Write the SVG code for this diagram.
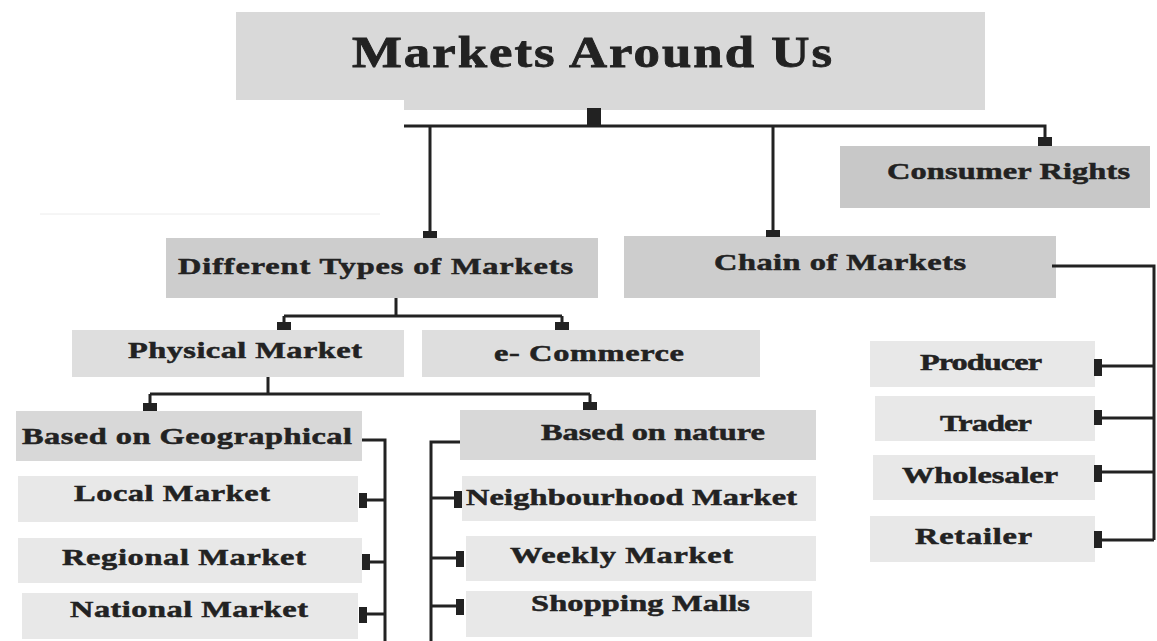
<svg xmlns="http://www.w3.org/2000/svg" width="1157" height="641" viewBox="0 0 1157 641">
  <style>
    .t { font-family: "Liberation Serif", "Times New Roman", serif; font-weight: bold; fill: #222; stroke: #222; stroke-width: 0.5; }
    .h1 { font-size: 44px; stroke-width: 0.8; }
    .h2 { font-size: 24px; }
    .ln { fill: none; stroke: #222; stroke-width: 3; }
    .sq { fill: #222; }
    .g1 { fill: #d9d9d9; }
    .g2 { fill: #c8c8c8; }
    .g3 { fill: #cdcdcd; }
    .g4 { fill: #dedede; }
    .g5 { fill: #d8d8d8; }
    .g6 { fill: #e8e8e8; }
  </style>
  <rect width="1157" height="641" fill="#ffffff"/>
  <line x1="40" y1="214" x2="380" y2="214" stroke="#ececec" stroke-width="1"/>

  <!-- labels are set in a horizontally widened serif: translate to the baseline start, then stretch -->
  <g id="root">
    <rect class="g1" x="236" y="12" width="749" height="88"/>
    <rect class="g1" x="404" y="99" width="581" height="11"/>
    <text class="t h1" transform="translate(352 67) scale(1.2 1)" textLength="400">Markets  Around  Us</text>
  </g>

  <g id="consumer-rights">
    <rect class="g2" x="840" y="146" width="310" height="62"/>
    <text class="t h2" transform="translate(887 179) scale(1.35 1)" textLength="180">Consumer Rights</text>
  </g>

  <g id="types">
    <rect class="g3" x="166" y="238" width="432" height="60"/>
    <text class="t h2" transform="translate(178 274) scale(1.35 1)" textLength="292.6">Different  Types  of  Markets</text>
  </g>

  <g id="chain">
    <rect class="g3" x="624" y="236" width="432" height="62"/>
    <text class="t h2" transform="translate(714 270) scale(1.35 1)" textLength="186.7">Chain  of  Markets</text>
  </g>

  <g id="physical">
    <rect class="g4" x="72" y="330" width="332" height="47"/>
    <text class="t h2" transform="translate(128 358) scale(1.35 1)" textLength="173.3">Physical Market</text>
  </g>

  <g id="ecommerce">
    <rect class="g4" x="422" y="330" width="338" height="47"/>
    <text class="t h2" transform="translate(494 361) scale(1.35 1)" textLength="140.7">e- Commerce</text>
  </g>

  <g id="geographical">
    <rect class="g5" x="16" y="411" width="346" height="50"/>
    <text class="t h2" transform="translate(22 444) scale(1.35 1)" textLength="244.4">Based on Geographical</text>
  </g>

  <g id="local">
    <rect class="g6" x="18" y="476" width="340" height="46"/>
    <text class="t h2" transform="translate(74 501) scale(1.35 1)" textLength="145.2">Local Market</text>
  </g>

  <g id="regional">
    <rect class="g6" x="18" y="538" width="344" height="45"/>
    <text class="t h2" transform="translate(62 565) scale(1.35 1)" textLength="180.7">Regional  Market</text>
  </g>

  <g id="national">
    <rect class="g6" x="22" y="593" width="336" height="46"/>
    <text class="t h2" transform="translate(70 617) scale(1.35 1)" textLength="176.3">National Market</text>
  </g>

  <g id="nature">
    <rect class="g5" x="460" y="410" width="356" height="50"/>
    <text class="t h2" transform="translate(541 440) scale(1.35 1)" textLength="165.9">Based on nature</text>
  </g>

  <g id="neighbourhood">
    <rect class="g6" x="462" y="476" width="354" height="45"/>
    <text class="t h2" transform="translate(466 505) scale(1.35 1)" textLength="245.2">Neighbourhood Market</text>
  </g>

  <g id="weekly">
    <rect class="g6" x="466" y="536" width="350" height="45"/>
    <text class="t h2" transform="translate(510 563) scale(1.35 1)" textLength="165.2">Weekly  Market</text>
  </g>

  <g id="malls">
    <rect class="g6" x="466" y="591" width="346" height="46"/>
    <text class="t h2" transform="translate(531 611) scale(1.35 1)" textLength="162.2">Shopping Malls</text>
  </g>

  <g id="producer">
    <rect class="g6" x="870" y="341" width="225" height="46"/>
    <text class="t h2" transform="translate(920 370) scale(1.35 1)" textLength="90.4">Producer</text>
  </g>

  <g id="trader">
    <rect class="g6" x="875" y="396" width="220" height="45"/>
    <text class="t h2" transform="translate(940 431) scale(1.35 1)" textLength="68.1">Trader</text>
  </g>

  <g id="wholesaler">
    <rect class="g6" x="873" y="455" width="222" height="45"/>
    <text class="t h2" transform="translate(902 483) scale(1.35 1)" textLength="115.6">Wholesaler</text>
  </g>

  <g id="retailer">
    <rect class="g6" x="870" y="516" width="225" height="46"/>
    <text class="t h2" transform="translate(915 544) scale(1.35 1)" textLength="86.7">Retailer</text>
  </g>

  <!-- connectors -->
  <g id="connectors">
    <!-- root to its three children -->
    <rect class="sq" x="587" y="108" width="14" height="18"/>
    <path class="ln" d="M404 126 H1045 V140 M430 126 V233 M773 126 V233"/>
    <rect class="sq" x="1038" y="137" width="14" height="9"/>
    <rect class="sq" x="423" y="231" width="14" height="7"/>
    <rect class="sq" x="766" y="230" width="14" height="7"/>

    <!-- types to physical / e-commerce -->
    <path class="ln" d="M396 298 V316 M284 316 H562 M284 316 V324 M562 316 V324"/>
    <rect class="sq" x="277" y="322" width="14" height="8"/>
    <rect class="sq" x="555" y="322" width="14" height="8"/>

    <!-- physical to its two groups -->
    <path class="ln" d="M268 377 V394 M150 394 H590 M150 394 V404 M590 394 V404"/>
    <rect class="sq" x="143" y="403" width="14" height="8"/>
    <rect class="sq" x="583" y="402" width="14" height="8"/>

    <!-- geographical list -->
    <path class="ln" d="M362 440 H385 V641 M366 500 H385 M369 562 H385 M366 614 H385"/>
    <rect class="sq" x="359" y="493" width="8" height="15"/>
    <rect class="sq" x="362" y="554" width="8" height="16"/>
    <rect class="sq" x="359" y="607" width="8" height="16"/>

    <!-- nature list -->
    <path class="ln" d="M460 442 H431 V641 M431 498 H456 M431 558 H458 M431 606 H458"/>
    <rect class="sq" x="454" y="491" width="8" height="17"/>
    <rect class="sq" x="456" y="551" width="8" height="16"/>
    <rect class="sq" x="456" y="599" width="8" height="16"/>

    <!-- chain list -->
    <path class="ln" d="M1052 266 H1154 V540 M1100 366 H1154 M1100 418 H1154 M1100 472 H1154 M1100 540 H1154"/>
    <rect class="sq" x="1094" y="359" width="8" height="17"/>
    <rect class="sq" x="1094" y="410" width="8" height="15"/>
    <rect class="sq" x="1094" y="465" width="8" height="17"/>
    <rect class="sq" x="1094" y="531" width="8" height="17"/>
  </g>
</svg>
